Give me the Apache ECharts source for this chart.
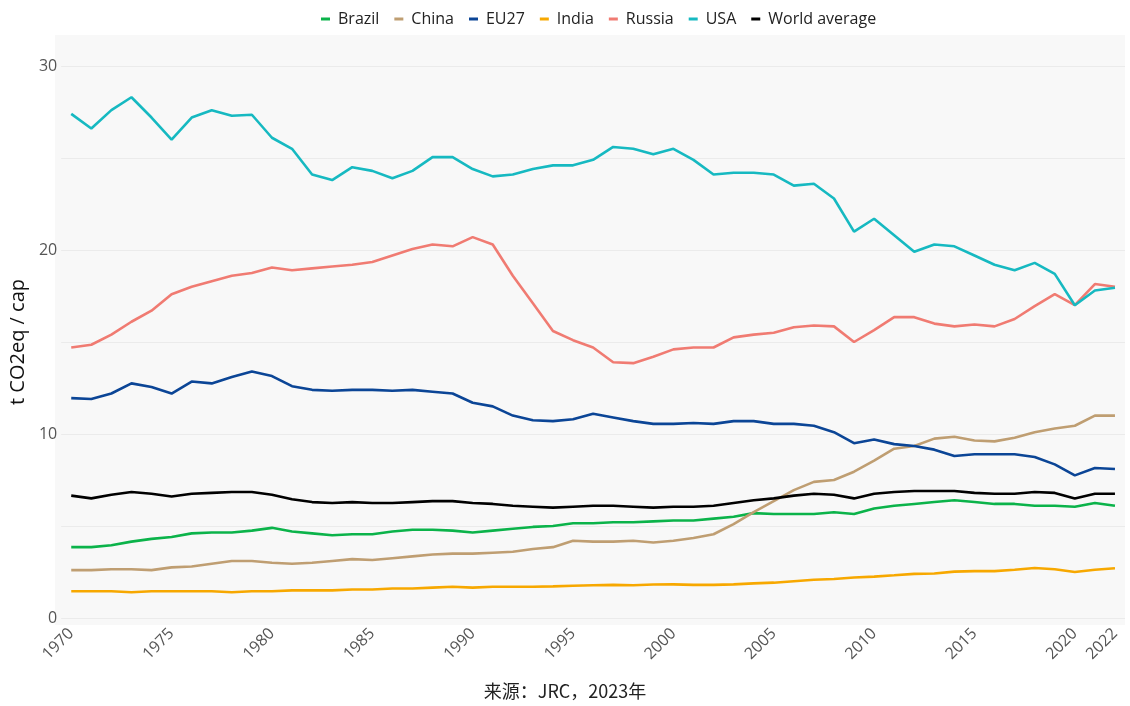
<!DOCTYPE html>
<html>
<head>
<meta charset="utf-8">
<script src="https://cdn.jsdelivr.net/npm/echarts@6/dist/echarts.min.js"></script>
<style>
html,body{margin:0;padding:0;background:#fff;}
#chart{width:1130px;height:706px;}
</style>
</head>
<body>
<div id="chart"></div>
<script>
const years = [];
for (let y = 1970; y <= 2022; y++) years.push(String(y));

const brazil = [3.85,3.85,3.95,4.15,4.3,4.4,4.6,4.65,4.65,4.75,4.9,4.7,4.6,4.5,4.55,4.55,4.7,4.8,4.8,4.75,4.65,4.75,4.85,4.95,5.0,5.15,5.15,5.2,5.2,5.25,5.3,5.3,5.4,5.5,5.7,5.65,5.65,5.65,5.75,5.65,5.95,6.1,6.2,6.3,6.4,6.3,6.2,6.2,6.1,6.1,6.05,6.25,6.1];
const china = [2.6,2.6,2.65,2.65,2.6,2.75,2.8,2.95,3.1,3.1,3.0,2.95,3.0,3.1,3.2,3.15,3.25,3.35,3.45,3.5,3.5,3.55,3.6,3.75,3.85,4.2,4.15,4.15,4.2,4.1,4.2,4.35,4.55,5.1,5.75,6.35,6.95,7.4,7.5,7.95,8.55,9.2,9.35,9.75,9.85,9.65,9.6,9.8,10.1,10.3,10.45,11.0,11.0];
const eu27 = [11.95,11.9,12.2,12.75,12.55,12.2,12.85,12.75,13.1,13.4,13.15,12.6,12.4,12.35,12.4,12.4,12.35,12.4,12.3,12.2,11.7,11.5,11.0,10.75,10.7,10.8,11.1,10.9,10.7,10.55,10.55,10.6,10.55,10.7,10.7,10.55,10.55,10.45,10.1,9.5,9.7,9.45,9.35,9.15,8.8,8.9,8.9,8.9,8.75,8.35,7.75,8.15,8.1];
const india = [1.45,1.45,1.45,1.4,1.45,1.45,1.45,1.45,1.4,1.45,1.45,1.5,1.5,1.5,1.55,1.55,1.6,1.6,1.65,1.7,1.65,1.7,1.7,1.7,1.72,1.75,1.78,1.8,1.78,1.82,1.83,1.8,1.8,1.83,1.88,1.92,2.0,2.08,2.12,2.2,2.25,2.32,2.4,2.42,2.52,2.55,2.55,2.62,2.72,2.65,2.5,2.62,2.7];
const russia = [14.7,14.85,15.4,16.1,16.7,17.6,18.0,18.3,18.6,18.75,19.05,18.9,19.0,19.1,19.2,19.35,19.7,20.05,20.3,20.2,20.7,20.3,18.6,17.1,15.6,15.1,14.7,13.9,13.85,14.2,14.6,14.7,14.7,15.25,15.4,15.5,15.8,15.9,15.85,15.0,15.65,16.35,16.35,16.0,15.85,15.95,15.85,16.25,16.95,17.6,17.0,18.15,18.0];
const usa = [27.4,26.6,27.6,28.3,27.2,26.0,27.2,27.6,27.3,27.35,26.1,25.5,24.1,23.8,24.5,24.3,23.9,24.3,25.05,25.05,24.4,24.0,24.1,24.4,24.6,24.6,24.9,25.6,25.5,25.2,25.5,24.9,24.1,24.2,24.2,24.1,23.5,23.6,22.8,21.0,21.7,20.8,19.9,20.3,20.2,19.7,19.2,18.9,19.3,18.7,17.0,17.8,17.95];
const world = [6.65,6.5,6.7,6.85,6.75,6.6,6.75,6.8,6.85,6.85,6.7,6.45,6.3,6.25,6.3,6.25,6.25,6.3,6.35,6.35,6.25,6.2,6.1,6.05,6.0,6.05,6.1,6.1,6.05,6.0,6.05,6.05,6.1,6.25,6.4,6.5,6.65,6.75,6.7,6.5,6.75,6.85,6.9,6.9,6.9,6.8,6.75,6.75,6.85,6.8,6.5,6.75,6.75];

const seriesNames = ['Brazil','China','EU27','India','Russia','USA','World average'];
const seriesData = [brazil, china, eu27, india, russia, usa, world];
const colors = ['#0bb34a','#bf9e72','#0b4596','#f7a800','#f07b72','#16b9c1','#000000'];
const shownYears = ['1970','1975','1980','1985','1990','1995','2000','2005','2010','2015','2020','2022'];
const yTickLabels = [0,10,20,30];

const chart = echarts.init(document.getElementById('chart'));
chart.setOption({
  animation: false,
  color: colors,
  graphic: [{
    type: 'rect', z: -10, silent: true,
    shape: {x: 55, y: 35, width: 1070, height: 590},
    style: {fill: '#f8f8f8'}
  }],
  title: {
    text: '来源：JRC，2023年',
    left: 'center', top: 677,
    textStyle: {fontFamily: 'Noto Sans CJK SC', fontSize: 18, fontWeight: 'normal', color: '#222'}
  },
  legend: {
    top: 6, left: 316,
    icon: 'rect', itemWidth: 9, itemHeight: 3, itemGap: 15,
    textStyle: {fontFamily: 'Open Sans', fontSize: 16, color: '#222', padding: [0,0,0,3]},
    data: seriesNames
  },
  grid: {left: 55, right: 5, top: 66, bottom: 88, containLabel: false},
  xAxis: {
    type: 'category',
    data: years,
    boundaryGap: true,
    axisLine: {show: false},
    axisTick: {show: false},
    splitLine: {show: false},
    axisLabel: {
      rotate: 45, margin: 13,
      fontFamily: 'Open Sans', fontSize: 16, color: '#555',
      interval: function(i, v){ return shownYears.indexOf(v) >= 0; }
    }
  },
  yAxis: {
    type: 'value', min: 0, max: 30, interval: 5,
    name: 't CO2eq / cap', nameLocation: 'middle', nameGap: 17,
    nameTextStyle: {fontFamily: 'Open Sans', fontSize: 20, color: '#111'},
    axisLine: {show: false},
    axisTick: {show: false},
    splitLine: {lineStyle: {color: '#ebebeb', width: 1}},
    axisLabel: {
      margin: 4, fontFamily: 'Open Sans', fontSize: 16, color: '#555',
      formatter: function(v){ return yTickLabels.indexOf(v) >= 0 ? String(v) : ''; }
    }
  },
  series: seriesNames.map((n, i) => ({
    name: n, type: 'line', data: seriesData[i],
    showSymbol: false, symbol: 'none',
    lineStyle: {width: 2.6, color: colors[i]},
    itemStyle: {color: colors[i]}
  }))
});
</script>
</body>
</html>
